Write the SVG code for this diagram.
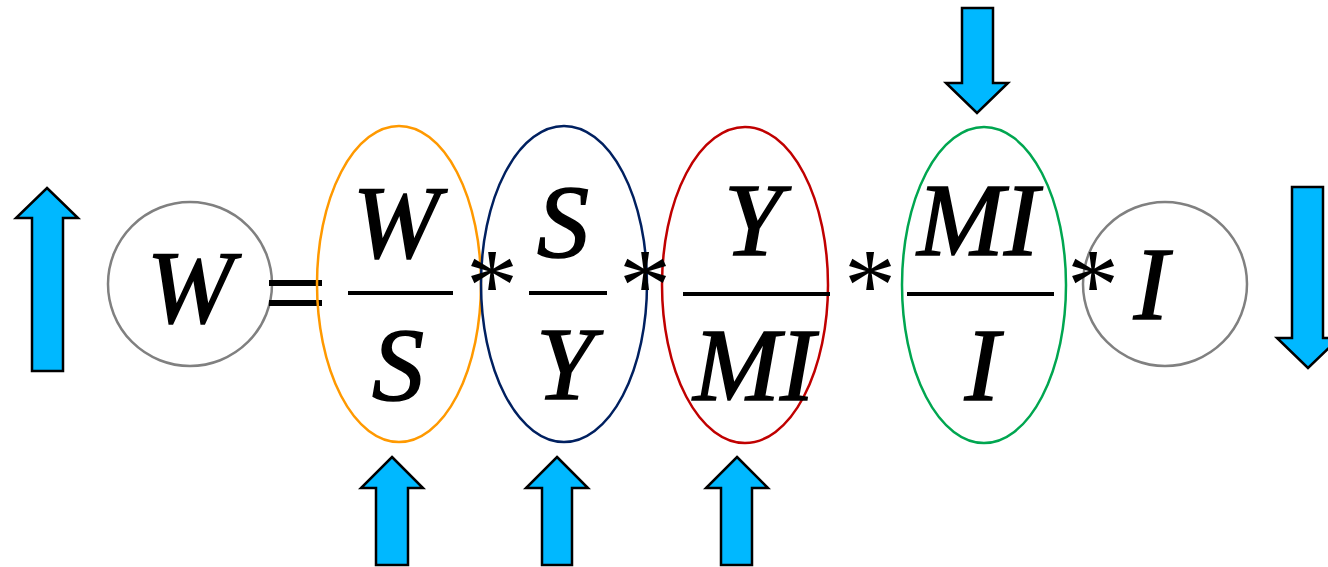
<svg xmlns="http://www.w3.org/2000/svg" width="1328" height="567" viewBox="0 0 1328 567">
<style>
.t{font-family:"Liberation Serif","Times New Roman",serif;font-style:italic;font-size:104px;fill:#000;stroke:#000;stroke-width:1.6;text-anchor:middle}
.a{font-family:"Liberation Serif","Times New Roman",serif;font-size:104px;fill:#000;text-anchor:middle}
.ar{fill:#00B8FF;stroke:#000;stroke-width:2.5;stroke-linejoin:miter}
.bar{stroke:#000;stroke-width:4}
.ov{fill:none;stroke-width:2.5}
</style>
<rect width="1328" height="567" fill="#fff"/>
<g id="arrow-left"><polygon class="ar" points="47,188 78,218 63,218 63,371 32,371 32,218 16,218"/></g>
<g id="node-W">
<circle cx="190" cy="284" r="82" class="ov" stroke="#808080"/>
<text class="t" x="190" y="322">W</text>
</g>
<g id="equals"><rect x="269" y="280" width="53" height="6"/><rect x="269" y="300" width="53" height="6"/></g>
<g id="frac-WS">
<ellipse cx="399" cy="284" rx="82" ry="158" class="ov" stroke="#FF9900"/>
<text class="t" x="396" y="257">W</text>
<line class="bar" x1="348" y1="293" x2="453" y2="293"/>
<text class="t" x="398" y="400">S</text>
</g>
<g id="frac-SY">
<ellipse cx="564" cy="284" rx="83" ry="158" class="ov" stroke="#002060"/>
<text class="t" x="563" y="257">S</text>
<line class="bar" x1="529" y1="293" x2="607" y2="293"/>
<text class="t" x="565" y="399">Y</text>
</g>
<g id="frac-YMI">
<ellipse cx="745" cy="285" rx="83" ry="158" class="ov" stroke="#C00000"/>
<text class="t" x="753" y="255">Y</text>
<line class="bar" x1="683" y1="294" x2="830" y2="294"/>
<text class="t" x="754" y="400">MI</text>
</g>
<g id="frac-MII">
<ellipse cx="984" cy="285" rx="82" ry="158" class="ov" stroke="#00A650"/>
<text class="t" x="978" y="255">MI</text>
<line class="bar" x1="907" y1="294" x2="1054" y2="294"/>
<text class="t" x="982" y="400">I</text>
</g>
<g id="node-I">
<circle cx="1165" cy="284" r="82" class="ov" stroke="#808080"/>
<text class="t" x="1151" y="319">I</text>
</g>
<g id="operators">
<text class="a" x="492" y="320">*</text>
<text class="a" x="645" y="320">*</text>
<text class="a" x="870" y="320">*</text>
<text class="a" x="1093" y="320">*</text>
</g>
<g id="connectors">
<polygon class="ar" points="962,8 993,8 993,83 1008,83 977,113 946,83 962,83"/>
<polygon class="ar" points="1292,187 1323,187 1323,338 1339,338 1308,368 1277,338 1292,338"/>
<polygon class="ar" points="392,457 423,488 408,488 408,565 376,565 376,488 361,488"/>
<polygon class="ar" points="557,457 588,488 572,488 572,565 542,565 542,488 526,488"/>
<polygon class="ar" points="737,457 768,488 752,488 752,565 721,565 721,488 706,488"/>
</g>
</svg>
